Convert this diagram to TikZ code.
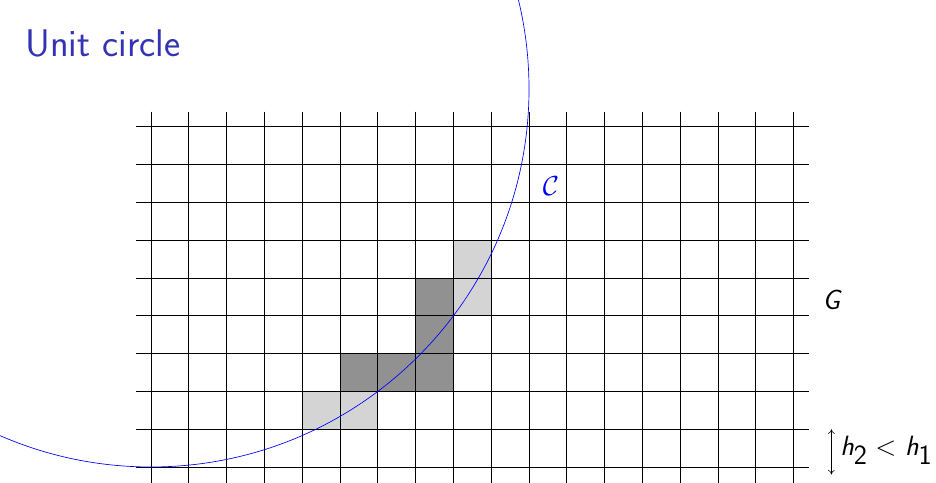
\documentclass[tikz,border=0pt]{standalone}
\usepackage{tikz}
\usetikzlibrary{arrows.meta, positioning, calc}
\definecolor{structblue}{RGB}{51,51,179}

\begin{document}
\begin{tikzpicture}[x=1cm,y=1cm,
  cellline/.style={black, line width=0.5pt},
  coarsecell/.style={fill=black!43, draw=black, line width=0.5pt},
  finecell/.style={fill=black!17}]
  \clip (-3.995,-10.423) rectangle (20.767,2.354);
  % shaded cells
  \foreach \cx/\cy in {8/-5, 8/-6, 4/-9, 5/-9} {
    \fill[finecell] (\cx,\cy) rectangle ++(1,1);
  }
  \foreach \cx/\cy in {7/-6, 7/-7, 5/-8, 6/-8, 7/-8} {
    \filldraw[coarsecell] (\cx,\cy) rectangle ++(1,1);
  }
  % grid
  \foreach \i in {0,...,17} {
    \draw[cellline] (\i,-0.6) -- (\i,-10.5);
  }
  \foreach \j in {1,...,10} {
    \draw[cellline] (-0.4,-\j) -- (17.4,-\j);
  }
  % circle
  \draw[blue, line width=0.5pt] (0,0) circle (10);
  % labels
  \node[structblue, font=\fontsize{29}{35}\selectfont\sffamily, anchor=base west, inner sep=0pt] (title) at (-3.33,0.85) {Unit circle};
  \node[blue, font=\fontsize{20}{24}\selectfont] (curvelabel) at (10.58,-2.57) {$\mathcal{C}$};
  \node[font=\fontsize{21}{25}\selectfont, inner sep=0pt] (gridlabel) at (18.0,-5.58) {{\sffamily\itshape G}};
  \coordinate (stepTop) at (18,-9);
  \coordinate (stepBot) at (18,-10.2);
  \draw[{To[length=3.5pt,width=5pt]}-{To[length=3.5pt,width=5pt]}, line width=0.4pt] (stepTop) -- (stepBot);
  \node[font=\fontsize{21}{25}\selectfont, anchor=west, inner sep=0pt] (steplabel) at (18.23,-9.55)
    {{\sffamily\itshape h}$_{\textsf{2}}<${\sffamily\itshape\ h}$_{\textsf{1}}$};
\end{tikzpicture}
\end{document}
